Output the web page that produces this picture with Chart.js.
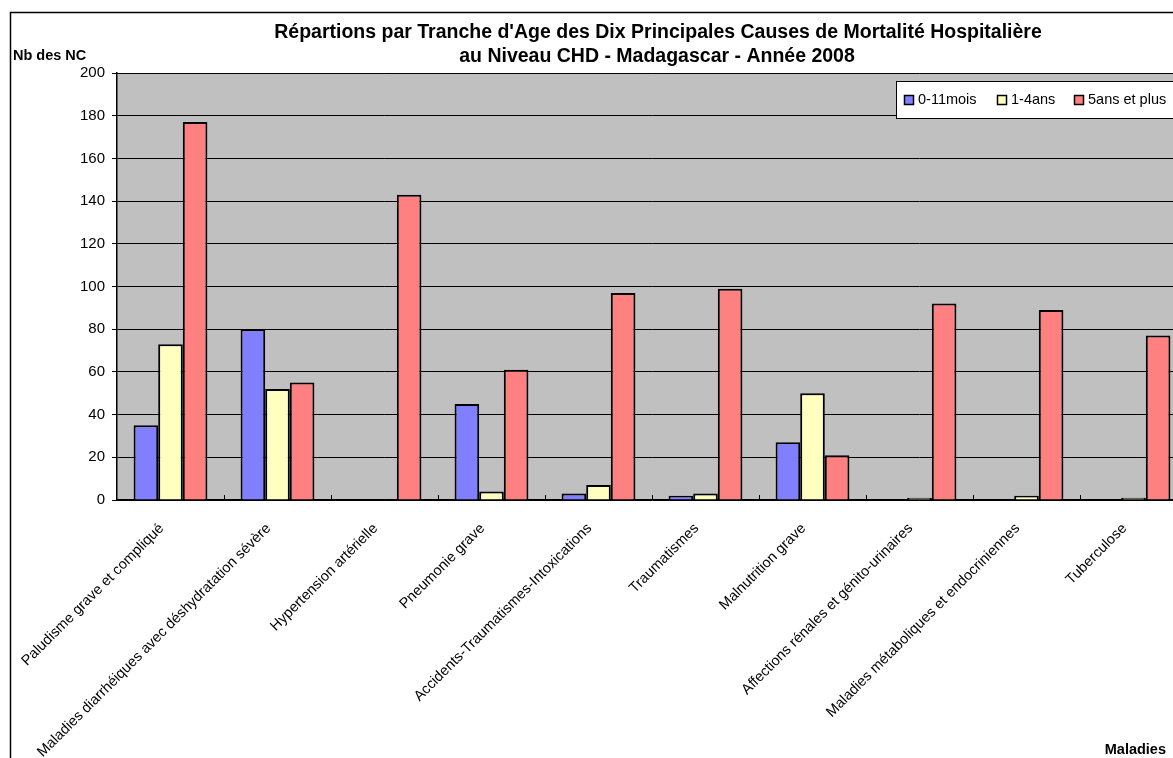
<!DOCTYPE html>
<html lang="fr">
<head>
    <meta charset="UTF-8">
    <title>Mortalité Hospitalière CHD 2008</title>
    <script src="https://cdn.jsdelivr.net/npm/chart.js"></script>
    <style>
        body { margin: 0; overflow: hidden; background: #fff; }
        #wrap { position: absolute; left: 0; top: 0; }
    </style>
</head>
<body>
    <div id="wrap">
        <canvas id="Chart" width="1200" height="780"></canvas>
    </div>

    <script>
        // categories and series
        const maladies = [
            "Paludisme grave et compliqué",
            "Maladies diarrhéiques avec déshydratation sévère",
            "Hypertension artérielle",
            "Pneumonie grave",
            "Accidents-Traumatismes-Intoxications",
            "Traumatismes",
            "Malnutrition grave",
            "Affections rénales et génito-urinaires",
            "Maladies métaboliques et endocriniennes",
            "Tuberculose"
        ];
        const seriesNames = ["0-11mois", "1-4ans", "5ans et plus"];
        const moins1an = [35, 80, 0, 45, 3, 2, 27, 0, 0, 0];
        const unA4ans = [73, 52, 0, 4, 7, 3, 50, 1, 2, 1];
        const cinqEtPlus = [177, 55, 143, 61, 97, 99, 21, 92, 89, 77];
        const yTicks = [0, 20, 40, 60, 80, 100, 120, 140, 160, 180, 200];

        const colors = ['#8080FF', '#FFFFC0', '#FF8080'];
        const FONT = '"Liberation Sans", Arial, sans-serif';

        // frame, title, axis titles, legend, inner x ticks
        const decor = {
            id: 'decor',
            beforeDraw(chart) {
                const ctx = chart.ctx;
                const a = chart.chartArea;
                ctx.save();
                ctx.fillStyle = '#C0C0C0';
                ctx.fillRect(a.left, a.top, a.right - a.left, a.bottom - a.top);
                ctx.strokeStyle = '#808080';
                ctx.lineWidth = 1;
                ctx.beginPath();
                ctx.moveTo(a.left, a.top + 0.5);
                ctx.lineTo(a.right, a.top + 0.5);
                ctx.stroke();
                ctx.restore();
            },
            afterDraw(chart) {
                const ctx = chart.ctx;
                const a = chart.chartArea;
                const xs = chart.scales.x;
                ctx.save();
                // outer frame
                ctx.strokeStyle = '#000';
                ctx.lineWidth = 1.5;
                ctx.strokeRect(10.5, 12.5, 1400, 900);

                // inner tick marks between categories
                ctx.lineWidth = 1;
                ctx.strokeStyle = '#000';
                for (let i = 1; i < maladies.length; i++) {
                    const x = Math.round(xs.getPixelForValue(i - 0.5)) + 0.5;
                    ctx.beginPath();
                    ctx.moveTo(x, a.bottom);
                    ctx.lineTo(x, a.bottom - 5);
                    ctx.stroke();
                }

                // title
                ctx.fillStyle = '#000';
                ctx.textAlign = 'center';
                ctx.textBaseline = 'middle';
                ctx.font = 'bold 19.5px ' + FONT;
                ctx.fillText("Répartions par Tranche d'Age des Dix Principales Causes de Mortalité Hospitalière", 658, 33);
                ctx.fillText("au Niveau CHD - Madagascar - Année 2008", 657, 57);

                // axis titles
                ctx.font = 'bold 14.5px ' + FONT;
                ctx.textAlign = 'left';
                ctx.fillText('Nb des NC', 13, 56);
                ctx.textAlign = 'right';
                ctx.fillText('Maladies', 1166, 750);

                // legend
                ctx.fillStyle = '#fff';
                ctx.fillRect(896, 81, 300, 37);
                ctx.strokeStyle = '#000';
                ctx.lineWidth = 1;
                ctx.strokeRect(896.5, 81.5, 300, 37);
                const lx = [904, 997, 1074];
                ctx.font = '14.5px ' + FONT;
                ctx.textAlign = 'left';
                chart.data.datasets.forEach((ds, i) => {
                    ctx.fillStyle = ds.backgroundColor;
                    ctx.fillRect(lx[i] + 0.5, 95.5, 9, 9);
                    ctx.strokeStyle = '#000';
                    ctx.lineWidth = 1.5;
                    ctx.strokeRect(lx[i] + 0.5, 95.5, 9, 9);
                    ctx.fillStyle = '#000';
                    ctx.fillText(ds.label, lx[i] + 14, 100);
                });
                ctx.restore();
            }
        };

        function createChart() {
            const ctx = document.getElementById('Chart');
            const series = [moins1an, unA4ans, cinqEtPlus];
            new Chart(ctx, {
                type: 'bar',
                data: {
                    labels: maladies,
                    datasets: series.map((d, i) => ({
                        label: seriesNames[i],
                        data: d,
                        backgroundColor: colors[i],
                        borderColor: '#000',
                        borderWidth: 2,
                        categoryPercentage: 0.69,
                        barPercentage: 1.0
                    }))
                },
                options: {
                    responsive: false,
                    animation: false,
                    devicePixelRatio: 1,
                    layout: { padding: { top: 73, left: 0, right: 13, bottom: 0 } },
                    plugins: {
                        legend: { display: false },
                        title: { display: false },
                        tooltip: { enabled: false }
                    },
                    scales: {
                        x: {
                            grid: { display: false },
                            border: { color: '#000', width: 1.5 },
                            ticks: {
                                autoSkip: false,
                                minRotation: 45,
                                maxRotation: 45,
                                padding: 12,
                                labelOffset: -9,
                                color: '#000',
                                font: { family: FONT, size: 14.5 }
                            },
                            afterFit(scale) { scale.height = 280; }
                        },
                        y: {
                            min: 0,
                            max: 200,
                            afterBuildTicks(scale) {
                                scale.ticks = yTicks.map(v => ({ value: v }));
                            },
                            grid: {
                                color: '#000',
                                lineWidth: 1,
                                tickLength: 5,
                                drawTicks: true
                            },
                            border: { color: '#000', width: 1.5 },
                            ticks: {
                                padding: 7,
                                color: '#000',
                                font: { family: FONT, size: 15 }
                            },
                            afterFit(scale) { scale.width = 117; }
                        }
                    }
                },
                plugins: [decor]
            });
        }
        createChart();
    </script>
</body>
</html>
